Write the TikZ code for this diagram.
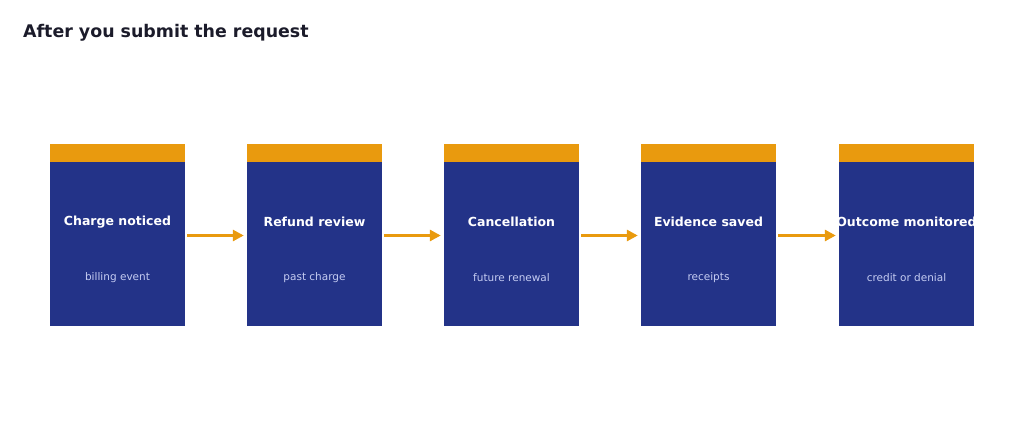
\documentclass[tikz,border=0pt]{standalone}
\usepackage{fontspec}
\setmainfont{DejaVu Sans}
\usetikzlibrary{arrows.meta}

\definecolor{stepblue}{HTML}{233388}
\definecolor{steporange}{HTML}{E99A0E}
\definecolor{subtext}{HTML}{C5CCF2}
\definecolor{headtext}{HTML}{1B1B2A}

\begin{document}
\begin{tikzpicture}[x=1pt, y=-1pt]

\useasboundingbox (0, 0) rectangle (1024, 441);

\node (title) at (23, 33) [anchor=west, inner sep=0pt, text=headtext, font=\bfseries\fontsize{17.4}{20}\selectfont] {After you submit the request};

\begin{scope}[every node/.style={rectangle, inner sep=0pt, minimum width=135pt}]
    \node (b1) at (117.5, 244) [fill=stepblue, minimum height=164pt] {};
    \node (b2) at (314.5, 244) [fill=stepblue, minimum height=164pt] {};
    \node (b3) at (511.5, 244) [fill=stepblue, minimum height=164pt] {};
    \node (b4) at (708.5, 244) [fill=stepblue, minimum height=164pt] {};
    \node (b5) at (906.5, 244) [fill=stepblue, minimum height=164pt] {};

    \node (c1) at (117.5, 153) [fill=steporange, minimum height=18pt] {};
    \node (c2) at (314.5, 153) [fill=steporange, minimum height=18pt] {};
    \node (c3) at (511.5, 153) [fill=steporange, minimum height=18pt] {};
    \node (c4) at (708.5, 153) [fill=steporange, minimum height=18pt] {};
    \node (c5) at (906.5, 153) [fill=steporange, minimum height=18pt] {};
\end{scope}

\begin{scope}[every node/.style={text=white, font=\bfseries\fontsize{12.5}{15}\selectfont}]
    \node (t1) at (117.5, 222) {Charge noticed};
    \node (t2) at (314.5, 222) {Refund review};
    \node (t3) at (511.5, 222) {Cancellation};
    \node (t4) at (708.5, 222) {Evidence saved};
    \node (t5) at (906.5, 222) {Outcome monitored};
\end{scope}

\begin{scope}[every node/.style={text=subtext, font=\fontsize{10.5}{13}\selectfont}]
    \node (s1) at (117.5, 277.5) {billing event};
    \node (s2) at (314.5, 277.5) {past charge};
    \node (s3) at (511.5, 277.5) {future renewal};
    \node (s4) at (708.5, 277.5) {receipts};
    \node (s5) at (906.5, 277.5) {credit or denial};
\end{scope}

\begin{scope}[>={Triangle[length=11pt, width=11pt]},
              every edge/.style={draw=steporange, line width=3pt, shorten <=2pt, shorten >=3pt}]
    \path [->] (b1.east |- 0, 235.5) edge node {} (b2.west |- 0, 235.5);
    \path [->] (b2.east |- 0, 235.5) edge node {} (b3.west |- 0, 235.5);
    \path [->] (b3.east |- 0, 235.5) edge node {} (b4.west |- 0, 235.5);
    \path [->] (b4.east |- 0, 235.5) edge node {} (b5.west |- 0, 235.5);
\end{scope}

\end{tikzpicture}
\end{document}
